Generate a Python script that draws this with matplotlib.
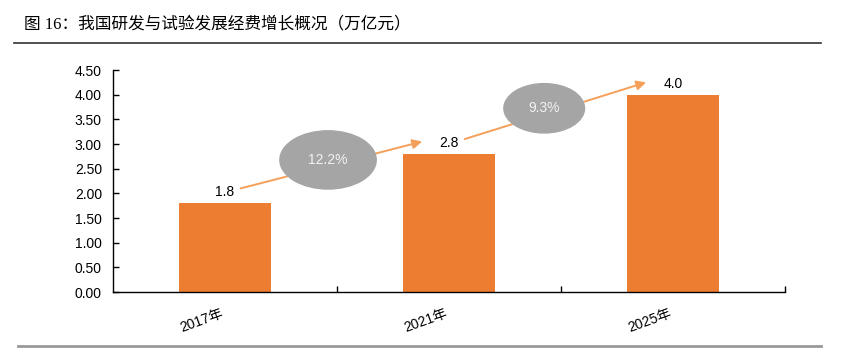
import matplotlib
matplotlib.use("Agg")
import matplotlib.pyplot as plt
from matplotlib.patches import Ellipse
from matplotlib.lines import Line2D

# Data
years = ["2017年", "2021年", "2025年"]
spend = [1.8, 2.8, 4.0]
growth = ["12.2%", "9.3%"]

bar_color = "#ED7D31"
arrow_color = "#F5A05A"
ellipse_color = "#A5A5A5"

plt.rcParams["font.family"] = ["Liberation Sans", "Noto Sans CJK SC"]

fig = plt.figure(figsize=(8.48, 3.55), dpi=100)
W, H = 848, 355

# Title and rules
fig.text(24 / W, 1 - 24 / H, "图 16：我国研发与试验发展经费增长概况（万亿元）",
         fontsize=12, family=["Liberation Serif", "Noto Sans CJK SC"],
         va="center", ha="left", color="black")
fig.add_artist(Line2D([14 / W, 821 / W], [1 - 43 / H, 1 - 43 / H],
                      color="#333333", linewidth=1.2))
fig.add_artist(Line2D([18 / W, 821 / W], [1 - 346 / H, 1 - 346 / H],
                      color="#999999", linewidth=2))

ax = fig.add_axes([113 / W, 1 - 292 / H, (785 - 113) / W, (292 - 70) / H])

x = list(range(len(years)))
ax.bar(x, spend, width=0.41, color=bar_color, zorder=2)
ax.set_xlim(-0.5, len(years) - 0.5)
ax.set_ylim(0, 4.5)
ax.set_yticks([i * 0.5 for i in range(10)])
ax.set_yticklabels([f"{i * 0.5:.2f}" for i in range(10)], fontsize=10)
ax.set_xticks(x)
ax.set_xticklabels(years, rotation=20, fontsize=10, ha="right")
ax.set_xticks([0.5, 1.5, 2.5], minor=True)
ax.tick_params(axis="x", which="major", length=0, pad=10)
ax.tick_params(axis="x", which="minor", direction="in", length=4, width=1)
ax.tick_params(axis="y", direction="in", length=4, width=1, pad=8)
for s in ["top", "right"]:
    ax.spines[s].set_visible(False)
ax.spines["left"].set_linewidth(1)
ax.spines["bottom"].set_linewidth(1)

# Value labels
for xi, v in zip(x, spend):
    ax.text(xi, v + 0.22, f"{v:.1f}", ha="center", va="center", fontsize=10)

# Growth arrows with ellipses
for i, g in enumerate(growth):
    x0, x1 = x[i] + 0.07, x[i + 1] - 0.12
    y0, y1 = spend[i] + 0.3, spend[i + 1] + 0.25
    ax.annotate("", xy=(x1, y1), xytext=(x0, y0),
                arrowprops=dict(arrowstyle="-|>", color=arrow_color, lw=1.4,
                                mutation_scale=14, shrinkA=0, shrinkB=0))
    cx = x[i] + (0.46 if i == 0 else 0.425)
    cy = y0 + (y1 - y0) * (cx - x0) / (x1 - x0) + 0.12
    w = 0.43 if i == 0 else 0.36
    h = 1.18 if i == 0 else 1.0
    ax.add_patch(Ellipse((cx, cy), w, h, color=ellipse_color, zorder=3))
    ax.text(cx, cy, g, ha="center", va="center", fontsize=10,
            color="#F2F2F2", zorder=4)

fig.savefig("out.png", dpi=100)
